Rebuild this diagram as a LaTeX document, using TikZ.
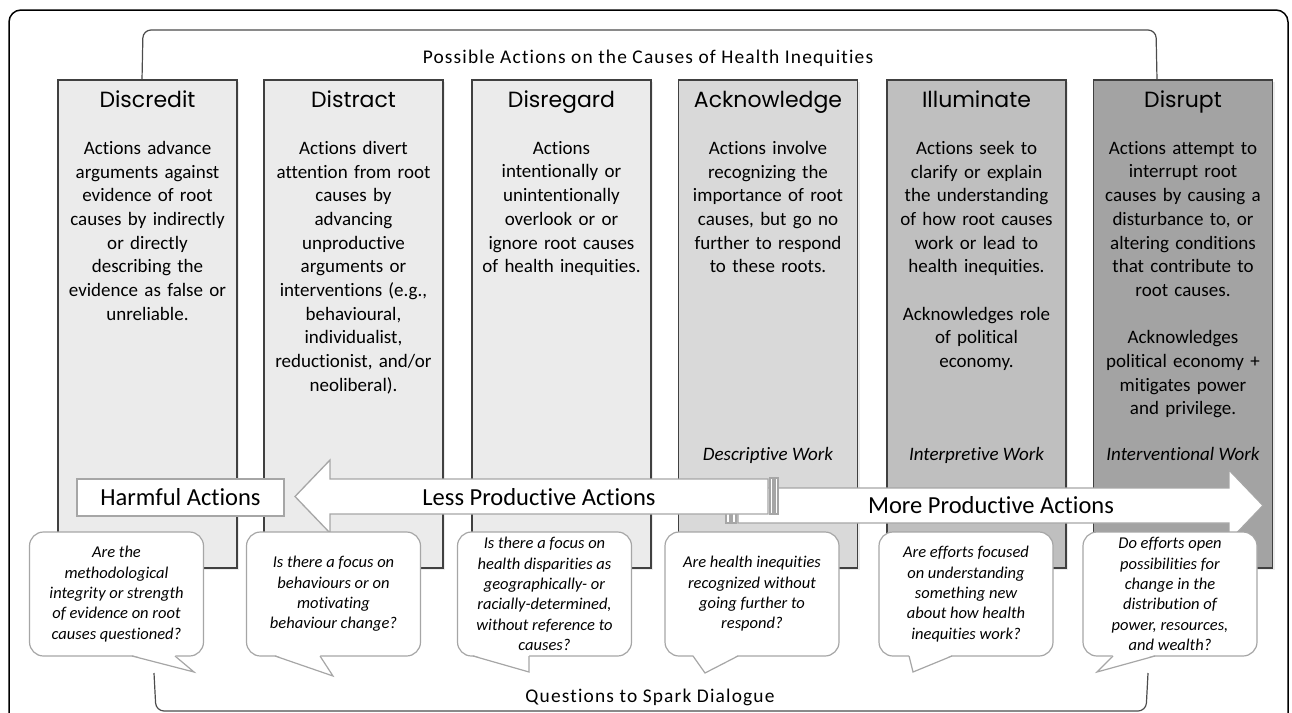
\documentclass[tikz,border=0pt]{standalone}
\usepackage{fontspec}
\setmainfont{Carlito}[Ligatures=NoCommon]
\newfontfamily\headfont{Poppins}
\newfontfamily\spacedfont{Carlito}[LetterSpace=6, Ligatures=NoCommon]
\usetikzlibrary{shadows}

\definecolor{paleGray}{HTML}{EBEBEB}
\definecolor{midGray}{HTML}{D9D9D9}
\definecolor{darkGray}{HTML}{BFBFBF}
\definecolor{deepGray}{HTML}{A3A3A3}
\definecolor{edgeGray}{HTML}{404040}
\definecolor{lineGray}{HTML}{A6A6A6}

\begin{document}
\begin{tikzpicture}[x=1pt, y=-1pt,
		colbox/.style={draw=edgeGray, line width=1.1pt, minimum width=179pt, minimum height=488pt, inner sep=0pt, drop shadow={shadow xshift=2pt, shadow yshift=-2pt, opacity=0.15}},
		coltitle/.style={font=\headfont\fontsize{22}{26}\selectfont, anchor=base},
		coltext/.style={font=\fontsize{19}{23.7}\selectfont, text width=200pt, align=center, anchor=north, inner sep=0pt},
		worktext/.style={font=\itshape\fontsize{19}{23.7}\selectfont, anchor=base},
		arrowtext/.style={font=\fontsize{24.5}{29}\selectfont},
		arrowline/.style={draw=lineGray, fill=white, line width=1.3pt},
		bubblebox/.style={draw=lineGray, fill=white, line width=1.2pt, rounded corners=14pt, minimum width=174pt, minimum height=124pt, inner sep=0pt, font=\itshape\fontsize{16.5}{20.3}\selectfont, align=center},
		bracketline/.style={draw=black!70, line width=1.2pt, rounded corners=8pt},
		heading/.style={font=\spacedfont\fontsize{19.4}{23}\selectfont, anchor=base}
	]
		\useasboundingbox ( 0, 0 ) rectangle ( 1292, 712 );

		% рамка
		\draw [line width=1.5pt, rounded corners=12pt] ( 9, 10 ) rectangle ( 1288, 760 );

		% скобки
		\draw [bracketline] ( 142, 80 ) -- ( 143, 30 ) -- ( 1156, 30 ) -- ( 1157, 80 );
		\draw [bracketline] ( 154, 673 ) -- ( 156, 711 ) -- ( 1146, 711 ) -- ( 1148, 673 );
		\node [heading] (actionsHeading) at ( 648, 63 ) {Possible Actions on the Causes of Health Inequities};
		\node [heading] (questionsHeading) at ( 650, 702 ) {Questions to Spark Dialogue};

		% столбец 1
		\node [colbox, fill=paleGray] (discredit) at ( 147.5, 324 ) {};
		\node [coltitle] (discreditTitle) at ( 147.5, 107 ) {Discredit};
		\node [coltext] (discreditText) at ( 147.5, 141 ) {Actions advance\\ arguments against\\ evidence of root\\ causes by indirectly\\ or directly\\ describing the\\ evidence as false or\\ unreliable.};

		% столбец 2
		\node [colbox, fill=paleGray] (distract) at ( 353.5, 324 ) {};
		\node [coltitle] (distractTitle) at ( 353.5, 107 ) {Distract};
		\node [coltext] (distractText) at ( 353.5, 141 ) {Actions divert\\ attention from root\\ causes by\\ advancing\\ unproductive\\ arguments or\\ interventions (e.g.,\\ behavioural,\\ individualist,\\ reductionist, and/or\\ neoliberal).};

		% столбец 3
		\node [colbox, fill=paleGray] (disregard) at ( 561.5, 324 ) {};
		\node [coltitle] (disregardTitle) at ( 561.5, 107 ) {Disregard};
		\node [coltext] (disregardText) at ( 561.5, 141 ) {Actions\\ intentionally or\\ unintentionally\\ overlook or or\\ ignore root causes\\ of health inequities.};

		% столбец 4
		\node [colbox, fill=midGray] (acknowledge) at ( 768, 324 ) {};
		\node [coltitle] (acknowledgeTitle) at ( 768, 107 ) {Acknowledge};
		\node [coltext] (acknowledgeText) at ( 768, 141 ) {Actions involve\\ recognizing the\\ importance of root\\ causes, but go no\\ further to respond\\ to these roots.};
		\node [worktext] (acknowledgeWork) at ( 768, 460 ) {Descriptive Work};

		% столбец 5
		\node [colbox, fill=darkGray] (illuminate) at ( 976.5, 324 ) {};
		\node [coltitle] (illuminateTitle) at ( 976.5, 107 ) {Illuminate};
		\node [coltext] (illuminateText) at ( 976.5, 141 ) {Actions seek to\\ clarify or explain\\ the understanding\\ of how root causes\\ work or lead to\\ health inequities.\\[23.7pt] Acknowledges role\\ of political\\ economy.};
		\node [worktext] (illuminateWork) at ( 976.5, 460 ) {Interpretive Work};

		% столбец 6
		\node [colbox, fill=deepGray] (disrupt) at ( 1183, 324 ) {};
		\node [coltitle] (disruptTitle) at ( 1183, 107 ) {Disrupt};
		\node [coltext] (disruptText) at ( 1183, 141 ) {Actions attempt to\\ interrupt root\\ causes by causing a\\ disturbance to, or\\ altering conditions\\ that contribute to\\ root causes.\\[23.7pt] Acknowledges\\ political economy +\\ mitigates power\\ and privilege.};
		\node [worktext] (disruptWork) at ( 1183, 460 ) {Interventional Work};

		% стрелка вправо
		\draw [arrowline] ( 738, 488 ) -- ( 1229, 488 ) -- ( 1229, 470 ) -- ( 1263, 505.5 ) -- ( 1229, 541 ) -- ( 1229, 523 ) -- ( 738, 523 ) -- cycle;
		\draw [arrowline] ( 726, 488 ) rectangle ( 730, 523 );
		\draw [arrowline] ( 732, 488 ) rectangle ( 736, 523 );
		\node [arrowtext] (moreText) at ( 991, 505 ) {More Productive Actions};

		% стрелка влево
		\draw [arrowline] ( 768, 479 ) -- ( 330, 479 ) -- ( 330, 460 ) -- ( 295, 496.5 ) -- ( 330, 533 ) -- ( 330, 514 ) -- ( 768, 514 ) -- cycle;
		\draw [arrowline] ( 770, 478 ) rectangle ( 773, 514 );
		\draw [arrowline] ( 775, 478 ) rectangle ( 778, 514 );
		\node [arrowtext] (lessText) at ( 539, 497 ) {Less Productive Actions};

		% вредные действия
		\node [arrowline, arrowtext, minimum width=207pt, minimum height=37pt, inner sep=0pt] (harmful) at ( 180.5, 497.5 ) {Harmful Actions};

		% вопрос 1
		\node [bubblebox] (question1) at ( 116.5, 594 ) {Are the\\ methodological\\ integrity or strength\\ of evidence on root\\ causes questioned?};
		\fill [white] ( 132, 655 ) -- ( 194, 672 ) -- ( 175, 655 ) -- cycle;
		\draw [lineGray, line width=1.2pt] ( 132, 656 ) -- ( 194, 672 ) -- ( 175, 656 );

		% вопрос 2
		\node [bubblebox] (question2) at ( 333.5, 594 ) {Is there a focus on\\ behaviours or on\\ motivating\\ behaviour change?};
		\fill [white] ( 275, 655 ) -- ( 333, 676 ) -- ( 320, 655 ) -- cycle;
		\draw [lineGray, line width=1.2pt] ( 275, 656 ) -- ( 333, 676 ) -- ( 320, 656 );

		% вопрос 3
		\node [bubblebox] (question3) at ( 544.5, 594 ) {Is there a focus on\\ health disparities as\\ geographically- or\\ racially-determined,\\ without reference to\\ causes?};
		\fill [white] ( 473, 655 ) -- ( 529, 672 ) -- ( 529, 655 ) -- cycle;
		\draw [lineGray, line width=1.2pt] ( 473, 656 ) -- ( 529, 672 ) -- ( 529, 656 );

		% вопрос 4
		\node [bubblebox] (question4) at ( 752, 594 ) {Are health inequities\\ recognized without\\ going further to\\ respond?};
		\fill [white] ( 693, 655 ) -- ( 705, 673 ) -- ( 738, 655 ) -- cycle;
		\draw [lineGray, line width=1.2pt] ( 693, 656 ) -- ( 705, 673 ) -- ( 738, 656 );

		% вопрос 5
		\node [bubblebox] (question5) at ( 966, 594 ) {Are efforts focused\\ on understanding\\ something new\\ about how health\\ inequities work?};
		\fill [white] ( 909, 655 ) -- ( 913, 672 ) -- ( 952, 655 ) -- cycle;
		\draw [lineGray, line width=1.2pt] ( 909, 656 ) -- ( 913, 672 ) -- ( 952, 656 );

		% вопрос 6
		\node [bubblebox] (question6) at ( 1170, 594 ) {Do efforts open\\ possibilities for\\ change in the\\ distribution of\\ power, resources,\\ and wealth?};
		\fill [white] ( 1155, 655 ) -- ( 1097, 672 ) -- ( 1113, 655 ) -- cycle;
		\draw [lineGray, line width=1.2pt] ( 1155, 656 ) -- ( 1097, 672 ) -- ( 1113, 656 );
	\end{tikzpicture}
\end{document}
